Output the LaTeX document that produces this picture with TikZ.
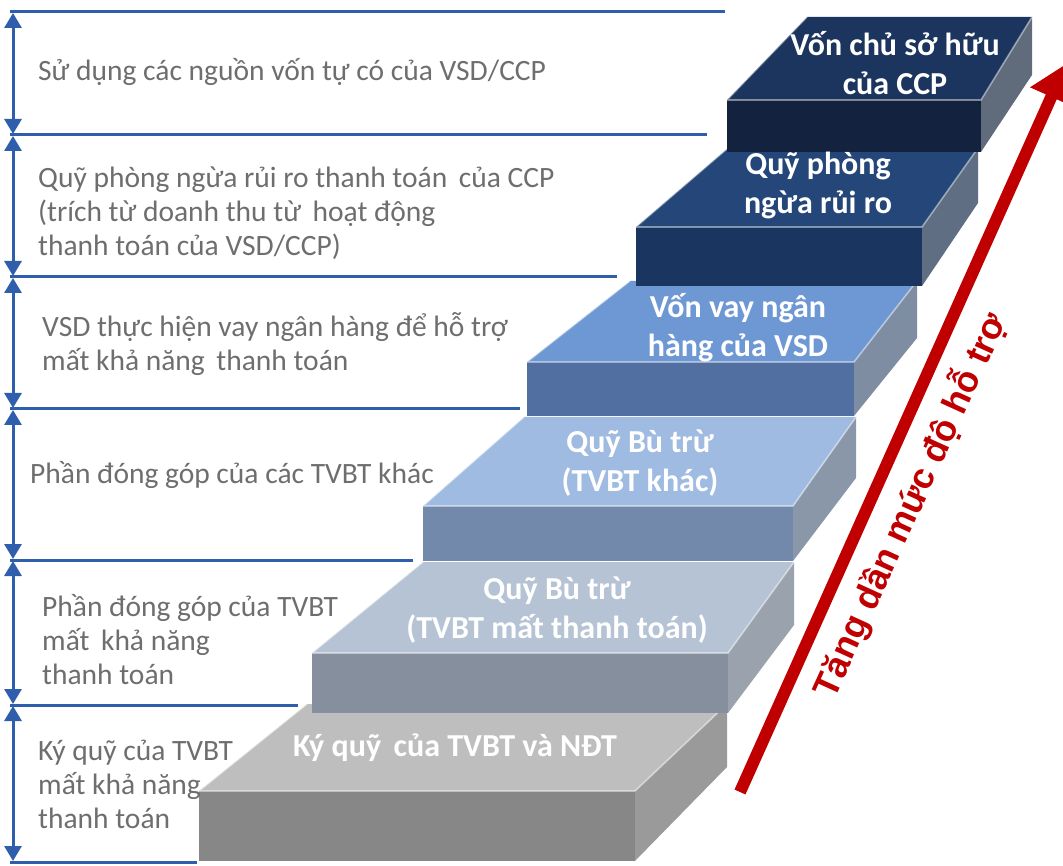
\documentclass[tikz,border=0pt]{standalone}
\usepackage{fontspec}
\setmainfont{Carlito}
\newfontfamily\risefont{Liberation Sans}
\usetikzlibrary{arrows.meta}

\definecolor{guide}{HTML}{2F5FAC}
\definecolor{notegray}{HTML}{6E6E6E}
\definecolor{rise}{HTML}{C00000}

% step palettes: top face, front face, right face
\definecolor{s1t}{HTML}{BEBEBE}\definecolor{s1f}{HTML}{878787}\definecolor{s1s}{HTML}{9A9A9A}
\definecolor{s2t}{HTML}{B5C3D4}\definecolor{s2f}{HTML}{858F9D}\definecolor{s2s}{HTML}{9AA2AD}
\definecolor{s3t}{HTML}{A0BBE2}\definecolor{s3f}{HTML}{7389AB}\definecolor{s3s}{HTML}{8A97A8}
\definecolor{s4t}{HTML}{6E98D4}\definecolor{s4f}{HTML}{516FA0}\definecolor{s4s}{HTML}{7E8DA1}
\definecolor{s5t}{HTML}{244679}\definecolor{s5f}{HTML}{1B3561}\definecolor{s5s}{HTML}{5F6E82}
\definecolor{s6t}{HTML}{1C355E}\definecolor{s6f}{HTML}{13223F}\definecolor{s6s}{HTML}{606C7C}

% one stair block: #1 palette prefix, #2 left, #3 right, #4 front top y, #5 bottom y,
% #6 back top y, #7 back-left x, #8 back-right x, #9 back-bottom y of the side face
\newcommand\stairblock[9]{%
  \fill[#1f] (#2,#4) rectangle (#3,#5);
  \fill[#1s] (#3,#4) -- (#8,#6) -- (#8,#9) -- (#3,#5) -- cycle;
  \fill[#1t] (#2,#4) -- (#7,#6) -- (#8,#6) -- (#3,#4) -- cycle;
  \draw[bevel] (#7,#6) -- (#2,#4) -- (#3,#4) -- (#8,#6);
}

\begin{document}
\begin{tikzpicture}[x=1pt,y=-1pt,
  guideline/.style={guide, line width=3pt},
  span/.style={guide, line width=3pt, shorten <=1pt, shorten >=1pt,
    {Triangle[width=17pt,length=15pt]}-{Triangle[width=17pt,length=15pt]}},
  note/.style={anchor=west, align=left, text=notegray, inner sep=0pt,
    font=\fontsize{29.5}{34}\selectfont},
  steplabel/.style={align=center, text=white, inner sep=0pt,
    font=\bfseries\fontsize{32}{39}\selectfont},
  bevel/.style={white, opacity=0.45, line width=1.6pt, line join=round},
  risearrow/.style={rise, line width=12pt, -{Triangle[width=44pt,length=36pt]}},
]
\useasboundingbox (0,0) rectangle (1063,866);

% guide lines separating the levels
\foreach \n/\y/\xr in {0/12/725, 1/135/707, 2/277/617, 3/409/520, 4/560/413, 5/705/298, 6/862/197}{
  \coordinate (gl\n) at (10,\y);
  \coordinate (gr\n) at (\xr,\y);
  \coordinate (ga\n) at (13,\y);
}
\foreach \n in {0,...,6}{ \draw[guideline] (gl\n) -- (gr\n); }
\foreach \a/\b in {0/1,1/2,2/3,3/4,4/5,5/6}{ \draw[span] (ga\a) -- (ga\b); }

% the staircase, lowest block first
\stairblock{s1}{199}{635}{791}{861}{704}{307}{727}{767}
\stairblock{s2}{312}{728}{653}{713}{562}{423}{794}{625}
\stairblock{s3}{423}{793}{506}{561}{417}{524}{856}{478}
\stairblock{s4}{527}{854}{362}{416}{281}{630}{917}{338}
\stairblock{s5}{636}{922}{227}{286}{148}{728}{978}{203}
\stairblock{s6}{727}{981}{100}{152}{17}{807}{1032}{75}

% labels on the blocks
\node[steplabel] (b1) at (455,748) {Ký quỹ\, của TVBT và NĐT};
\node[steplabel] (b2) at (557,610) {Quỹ Bù trừ\\(TVBT mất thanh toán)};
\node[steplabel] (b3) at (640,463) {Quỹ Bù trừ\\(TVBT khác)};
\node[steplabel] (b4) at (738,328) {Vốn vay ngân\\hàng của VSD};
\node[steplabel] (b5) at (818,185) {Quỹ phòng\\ngừa rủi ro};
\node[steplabel] (b6) at (895,63) {Vốn chủ sở hữu\\của CCP};

% descriptions beside the levels
\node[note] (n6) at (38,72) {Sử dụng các nguồn vốn tự có của VSD/CCP};
\node[note] (n5) at (38,213) {Quỹ phòng ngừa rủi ro thanh toán\, của CCP\\(trích từ doanh thu từ\, hoạt động\\thanh toán của VSD/CCP)};
\node[note] (n4) at (42,344) {VSD thực hiện vay ngân hàng để hỗ trợ\\mất khả năng\, thanh toán};
\node[note] (n3) at (30,475) {Phần đóng góp của các TVBT khác};
\node[note] (n2) at (42,640) {Phần đóng góp của TVBT\\mất\, khả năng\\thanh toán};
\node[note] (n1) at (38,784) {Ký quỹ của TVBT\\mất khả năng\\thanh toán};

% rising arrow with its caption
\coordinate (ra) at (740,792);
\coordinate (rb) at (1066,64);
\draw[risearrow] (ra) -- (rb);
\node[text=rise, font=\risefont\bfseries\fontsize{36}{40}\selectfont, rotate=65.5, inner sep=0pt] (cap) at (910,505) {Tăng dần mức độ hỗ trợ};
\end{tikzpicture}
\end{document}
